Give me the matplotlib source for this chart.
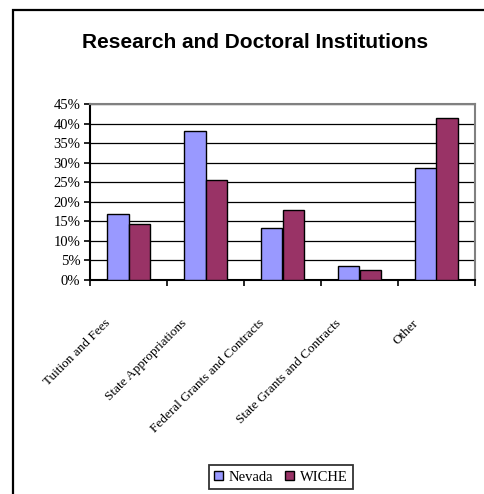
#!/usr/bin/env python3
"""
Revenue sources for research and doctoral institutions: Nevada vs. WICHE average.
Saves out.png.
"""
import matplotlib
matplotlib.use("Agg")
import matplotlib.pyplot as plt
import matplotlib.transforms as mtransforms
from matplotlib.patches import Rectangle
from matplotlib.ticker import PercentFormatter, FixedLocator
import numpy as np

categories = ["Tuition and Fees", "State Appropriations", "Federal Grants and Contracts",
              "State Grants and Contracts", "Other"]
nevada = [0.168, 0.382, 0.132, 0.035, 0.286]
wiche = [0.142, 0.255, 0.178, 0.025, 0.413]
series_names = ["Nevada", "WICHE"]
yticks = np.arange(0, 0.451, 0.05)

NEVADA_COLOR = "#9999FF"
WICHE_COLOR = "#993366"
SERIF = ["Liberation Serif", "DejaVu Serif"]


def main():
    fig = plt.figure(figsize=(4.85, 4.94), dpi=100)

    # outer chart frame (only left and top edges fall inside the image)
    fig.patches.append(Rectangle((13 / 485, -0.05), 1.2, 1 - 10 / 494 + 0.05,
                                 transform=fig.transFigure, fill=False,
                                 edgecolor="black", linewidth=1.6))

    fig.text(0.526, 1 - 42 / 494, "Research and Doctoral Institutions",
             ha="center", va="center", fontsize=15, fontweight="bold",
             family=["Liberation Sans", "DejaVu Sans"])

    ax = fig.add_axes([90 / 485, 1 - 280 / 494, 385 / 485, 176 / 494])
    x = np.arange(len(categories))
    w = 0.28
    ax.bar(x - w / 2, nevada, width=w, color=NEVADA_COLOR, edgecolor="black",
           linewidth=1.0, label=series_names[0], zorder=3)
    ax.bar(x + w / 2, wiche, width=w, color=WICHE_COLOR, edgecolor="black",
           linewidth=1.0, label=series_names[1], zorder=3)

    ax.set_xlim(-0.5, len(categories) - 0.5)
    ax.set_ylim(0, 0.45)
    ax.set_yticks(yticks)
    ax.yaxis.set_major_formatter(PercentFormatter(1.0, decimals=0))
    ax.yaxis.grid(True, color="black", linewidth=0.9, zorder=0)

    for side in ("top", "right"):
        ax.spines[side].set_color("#808080")
        ax.spines[side].set_linewidth(1.5)
    for side in ("left", "bottom"):
        ax.spines[side].set_color("black")
        ax.spines[side].set_linewidth(1.5)

    ax.tick_params(axis="y", direction="out", length=4, width=1.2, pad=3,
                   labelsize=10.5)
    for lab in ax.get_yticklabels():
        lab.set_family(SERIF)

    # category separators as minor ticks, labels at category centres
    ax.set_xticks(x)
    ax.xaxis.set_minor_locator(FixedLocator(np.arange(-0.5, len(categories), 1.0)))
    ax.tick_params(axis="x", which="minor", direction="out", length=4, width=1.2)
    ax.tick_params(axis="x", which="major", length=0, pad=30)
    ax.set_xticklabels(categories, rotation=45, ha="right", va="center",
                       rotation_mode="anchor", fontsize=9.5)
    shift = mtransforms.ScaledTranslation(-20 / 100, 0, fig.dpi_scale_trans)
    for lab in ax.get_xticklabels():
        lab.set_family(SERIF)
        lab.set_transform(lab.get_transform() + shift)

    leg = fig.legend(loc="center", bbox_to_anchor=(281 / 485, 1 - 477 / 494),
                     ncol=2, frameon=True, fancybox=False, edgecolor="black",
                     prop={"family": SERIF, "size": 10.5}, handlelength=0.6,
                     handleheight=0.6, handletextpad=0.4, columnspacing=0.8,
                     borderpad=0.4)
    leg.get_frame().set_linewidth(1.3)

    fig.savefig("out.png", dpi=100)
    plt.close(fig)


if __name__ == "__main__":
    main()
